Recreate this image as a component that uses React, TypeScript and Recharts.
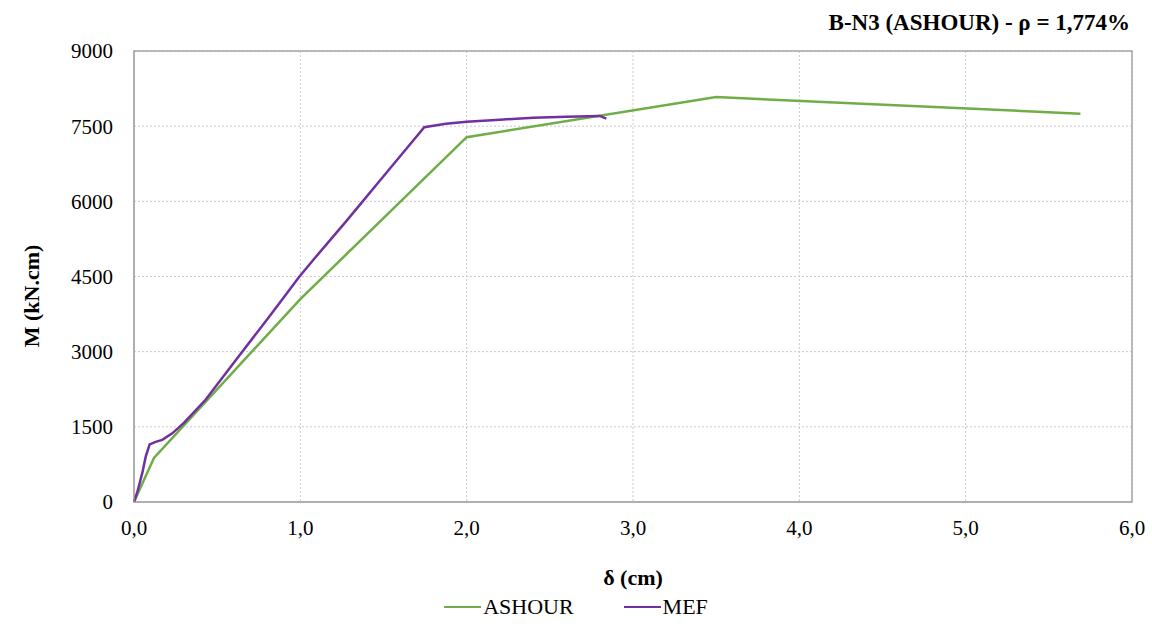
import React from 'react';
import { LineChart, Line, XAxis, YAxis, CartesianGrid, ReferenceArea } from 'recharts';

// δ (cm) / M (kN.cm)
const ashourD = [0, 0.12, 1.0, 2.0, 3.5, 5.69];
const ashourM = [0, 880, 4050, 7280, 8080, 7750];

const mefD = [0, 0.02, 0.05, 0.07, 0.094, 0.13, 0.17, 0.23, 0.3, 0.43, 0.63, 0.8, 0.9, 0.99, 1.08, 1.17, 1.27, 1.37, 1.47, 1.55, 1.63, 1.7, 1.745, 1.8, 1.875, 2.0, 2.2, 2.4, 2.6, 2.8, 2.84];
const mefM = [0, 200, 580, 900, 1150, 1200, 1240, 1370, 1580, 2040, 2910, 3640, 4080, 4480, 4840, 5190, 5580, 5980, 6380, 6700, 7020, 7300, 7480, 7510, 7550, 7590, 7630, 7670, 7690, 7705, 7650];

const xTicks = [0, 1, 2, 3, 4, 5, 6];
const yTicks = [0, 1500, 3000, 4500, 6000, 7500, 9000];

const title = 'B-N3 (ASHOUR) - ρ = 1,774%';
const xTitle = 'δ (cm)';
const yTitle = 'M (kN.cm)';

const GREEN = '#70ad47';
const PURPLE = '#7030a0';
const FONT = '"Liberation Serif", "Times New Roman", "DejaVu Serif", serif';

const ashour = ashourD.map((d, i) => ({ d, m: ashourM[i] }));
const mef = mefD.map((d, i) => ({ d, m: mefM[i] }));

const fmtX = (v: number) => v.toFixed(1).replace('.', ',');

const YLabel = () => (
  <text x={31} y={296} transform="rotate(-90 31 296)" textAnchor="middle" dominantBaseline="central"
    style={{ fontFamily: FONT }} fontSize={22} fontWeight="bold" fill="#000">
    {yTitle}
  </text>
);

const XLabel = () => (
  <text x={633} y={577} textAnchor="middle" dominantBaseline="central"
    style={{ fontFamily: FONT }} fontSize={22} fontWeight="bold" fill="#000">
    {xTitle}
  </text>
);

export default function App() {
  const tick = { fontSize: 21, fill: '#000', style: { fontFamily: FONT } };
  return (
    <div style={{ position: 'absolute', left: 0, top: 0, width: 1152, height: 628, background: '#fff', fontFamily: FONT }}>
      <div style={{ position: 'absolute', right: 22, top: 10, fontSize: 23, fontWeight: 'bold', color: '#000' }}>
        {title}
      </div>
      <LineChart width={1152} height={628} data={ashour} margin={{ top: 51, right: 20, bottom: 0, left: 0 }} style={{ fontFamily: FONT }}>
        <CartesianGrid stroke="#c8c8c8" strokeDasharray="2 2" />
        <ReferenceArea x1={0} x2={6} y1={0} y2={9000} fill="none" stroke="#a6a6a6" strokeWidth={1.5} ifOverflow="visible" />
        <XAxis dataKey="d" type="number" domain={[0, 6]} ticks={xTicks} tickFormatter={fmtX}
          height={126} tickSize={0} tickMargin={18} axisLine={{ stroke: '#a6a6a6' }} tick={tick}
          label={<XLabel />} allowDuplicatedCategory={false} />
        <YAxis type="number" domain={[0, 9000]} ticks={yTicks} width={134} tickSize={0} tickMargin={21}
          axisLine={{ stroke: '#a6a6a6' }} tick={tick} label={<YLabel />} />
        <Line data={ashour} dataKey="m" name="ASHOUR" stroke={GREEN} strokeWidth={2.5} dot={false} isAnimationActive={false} />
        <Line data={mef} dataKey="m" name="MEF" stroke={PURPLE} strokeWidth={2.5} dot={false} isAnimationActive={false} />
      </LineChart>
      <div style={{ position: 'absolute', left: 0, width: 1152, top: 594, display: 'flex', justifyContent: 'center', alignItems: 'center', fontSize: 22, color: '#000' }}>
        <span style={{ display: 'inline-block', width: 37, height: 2.5, background: GREEN, marginRight: 2 }} />
        <span style={{ marginRight: 50 }}>ASHOUR</span>
        <span style={{ display: 'inline-block', width: 37, height: 2.5, background: PURPLE, marginRight: 2 }} />
        <span>MEF</span>
      </div>
    </div>
  );
}
